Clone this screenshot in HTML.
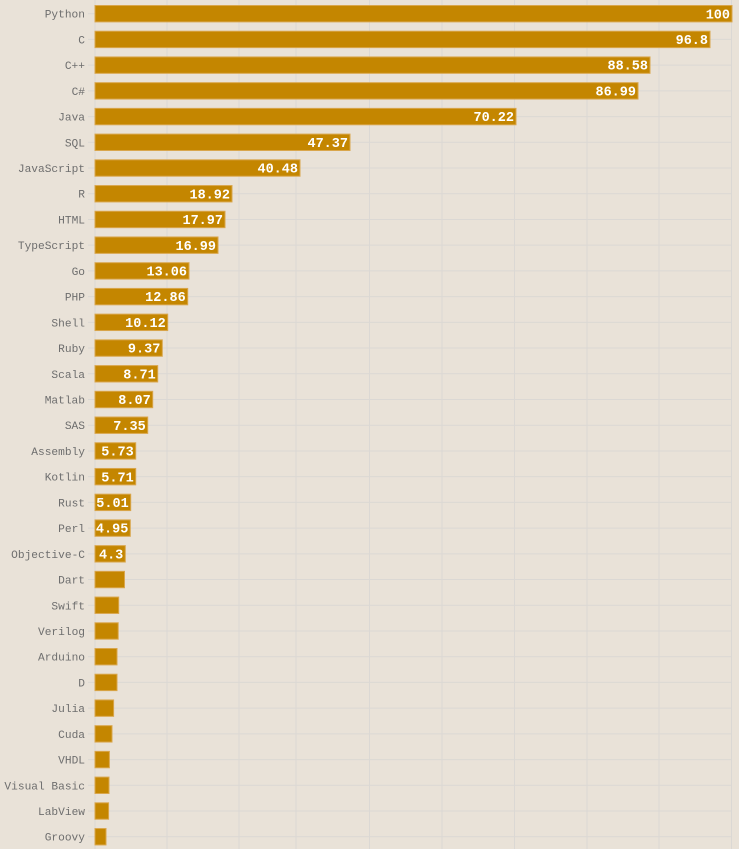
<!DOCTYPE html>
<html><head><meta charset="utf-8"><style>
html,body{margin:0;padding:0;background:#e9e2d8;}
svg{display:block;}
.l{font-family:"Liberation Mono",monospace;font-size:11.2px;fill:#6e6e6e;text-anchor:end;}
.v{font-family:"Liberation Mono",monospace;font-size:13.5px;font-weight:bold;fill:#fff;text-anchor:end;}
</style></head><body>
<svg id="s" width="739" height="849" xmlns="http://www.w3.org/2000/svg"></svg>
<script>
var d=[["Python",732,"100"],["C",710,"96.8"],["C++",650,"88.58"],["C#",638,"86.99"],["Java",516,"70.22"],["SQL",350,"47.37"],["JavaScript",300,"40.48"],["R",232,"18.92"],["HTML",225,"17.97"],["TypeScript",218,"16.99"],["Go",189,"13.06"],["PHP",187.7,"12.86"],["Shell",167.7,"10.12"],["Ruby",162.3,"9.37"],["Scala",157.7,"8.71"],["Matlab",152.7,"8.07"],["SAS",147.7,"7.35"],["Assembly",135.7,"5.73"],["Kotlin",135.7,"5.71"],["Rust",130.7,"5.01"],["Perl",130.3,"4.95"],["Objective-C",125.3,"4.3"],["Dart",124.5,""],["Swift",118.7,""],["Verilog",118.2,""],["Arduino",117,""],["D",117,""],["Julia",113.6,""],["Cuda",112,""],["VHDL",109.4,""],["Visual Basic",109,""],["LabView",108.6,""],["Groovy",106,""]];
var g=[95,167,239,296,369.5,442,514.5,587,659,731.5];
var h='';
g.forEach(function(x){h+='<line x1="'+x+'" y1="0" x2="'+x+'" y2="849" stroke="#dbd8d4" stroke-width="1"/>';});
d.forEach(function(r,i){var c=13.7+i*25.72;
h+='<line x1="88" y1="'+c+'" x2="732" y2="'+c+'" stroke="#dbd8d4" stroke-width="1"/>';});
d.forEach(function(r,i){var c=13.7+i*25.72;
h+='<text class="l" x="85" y="'+(c+4)+'">'+r[0]+'</text>';
h+='<rect x="95" y="'+(c-8.2)+'" width="'+(r[1]-95)+'" height="16.4" fill="#c48600" stroke="#d9a64c" stroke-width="1"/>';
if(r[2])h+='<text class="v" x="'+(r[1]-2)+'" y="'+(c+4.6)+'">'+r[2]+'</text>';});
document.getElementById('s').innerHTML=h;
</script>
</body></html>
